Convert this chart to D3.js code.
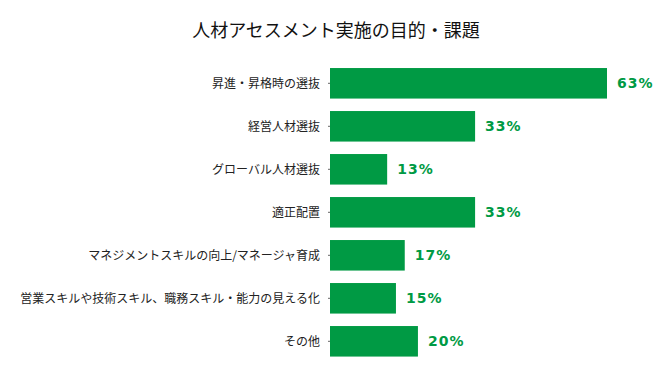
<!DOCTYPE html>
<html><head><meta charset="utf-8">
<script src="https://cdn.jsdelivr.net/npm/d3@7"></script>
<style>
body{margin:0;background:#fff;}
svg{display:block;}
</style></head>
<body>
<svg id="chart" width="670" height="380"></svg>
<script>
const title = "人材アセスメント実施の目的・課題";
const categories = [
  "昇進・昇格時の選抜",
  "経営人材選抜",
  "グローバル人材選抜",
  "適正配置",
  "マネジメントスキルの向上/マネージャ育成",
  "営業スキルや技術スキル、職務スキル・能力の見える化",
  "その他"
];
const values = [63, 33, 13, 33, 17, 15, 20];
const valueLabels = ["63%", "33%", "13%", "33%", "17%", "15%", "20%"];

const svg = d3.select("#chart");
const green = "#009a44";
const jp = "'Noto Sans CJK JP','Noto Sans',sans-serif";

svg.append("text")
  .attr("x", 336).attr("y", 37)
  .attr("text-anchor", "middle")
  .attr("font-family", jp)
  .attr("font-size", 18)
  .attr("fill", "#111")
  .text(title);

const y = d3.scaleBand()
  .domain(categories)
  .range([61.8, 362.8])
  .paddingInner(0.29)
  .paddingOuter(0.145);

const x = d3.scaleLinear().domain([0, 63]).range([330, 607]);

const data = categories.map((c, i) => ({c, v: values[i], l: valueLabels[i]}));

// small tick axis
const yAxis = svg.append("g")
  .attr("transform", "translate(330,0)")
  .call(d3.axisLeft(y).tickSize(2).tickFormat(""));
yAxis.select(".domain").remove();
yAxis.selectAll(".tick line").attr("stroke", "#666");

// category labels
svg.append("g").selectAll("text")
  .data(data).join("text")
  .attr("x", 320)
  .attr("y", d => y(d.c) + y.bandwidth() / 2)
  .attr("dy", "0.36em")
  .attr("text-anchor", "end")
  .attr("font-family", jp)
  .attr("font-size", 12)
  .attr("fill", "#222")
  .text(d => d.c);

svg.append("g").selectAll("rect")
  .data(data).join("rect")
  .attr("x", x(0))
  .attr("y", d => y(d.c))
  .attr("width", d => x(d.v) - x(0))
  .attr("height", y.bandwidth())
  .attr("fill", green);

svg.append("g").selectAll("text")
  .data(data).join("text")
  .attr("x", d => x(d.v) + 10)
  .attr("y", d => y(d.c) + y.bandwidth() / 2)
  .attr("dy", "0.36em")
  .attr("font-family", "'DejaVu Sans',sans-serif")
  .attr("font-weight", "bold")
  .attr("font-size", 14)
  .attr("letter-spacing", "1px")
  .attr("fill", green)
  .text(d => d.l);
</script>
</body></html>
